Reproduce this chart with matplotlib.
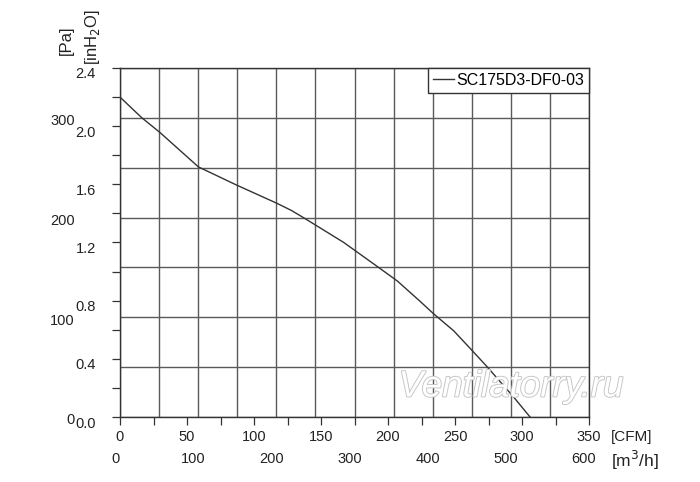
import matplotlib
matplotlib.use("Agg")
import matplotlib.pyplot as plt
import matplotlib.patheffects as pe
from matplotlib.ticker import MultipleLocator, FuncFormatter, FixedLocator
from matplotlib.transforms import ScaledTranslation

# ---- data ----
cfm = [0, 16, 30, 58.5, 87, 117, 128, 138, 167, 192, 207, 224, 234, 249, 262.5, 274, 293.5, 306]
inh2o = [2.20, 2.06, 1.955, 1.72, 1.595, 1.47, 1.42, 1.365, 1.20, 1.035, 0.935, 0.795, 0.71, 0.593, 0.46, 0.345, 0.14, 0.0]
series_name = "SC175D3-DF0-03"
cfm_ticks = [0, 50, 100, 150, 200, 250, 300, 350]
m3h_ticks = [0, 100, 200, 300, 400, 500, 600]
in_ticks = [0.0, 0.4, 0.8, 1.2, 1.6, 2.0, 2.4]
pa_ticks = [0, 100, 200, 300]
watermark = "Ventilatorry.ru"

plt.rcParams['font.family'] = ['Liberation Sans', 'DejaVu Sans']

fig = plt.figure(figsize=(7.0, 4.82), dpi=100)
ax = fig.add_axes([120/700, 1-417/482, 469/700, 349/482])

grid_c = '#5a5a5a'
# Pa axis (grid lines, left outer labels)
ax_pa = ax.twinx()
ax_pa.set_ylim(0, 350)
ax_pa.yaxis.set_major_locator(MultipleLocator(50))
ax_pa.yaxis.set_major_formatter(FuncFormatter(lambda v, p: f"{int(v)}" if int(round(v)) in pa_ticks else ""))
ax_pa.yaxis.set_ticks_position('left')
ax_pa.yaxis.set_label_position('left')
ax_pa.tick_params(axis='y', length=0, pad=32.5, labelsize=10.5, labelcolor='#222222')
ax_pa.grid(True, axis='y', color=grid_c, lw=1.0)
ax_pa.set_zorder(0)

# m3/h axis (vertical grid, second row labels)
ax_m = ax.twiny()
ax_m.set_xlim(0, 600)
ax_m.xaxis.set_major_locator(MultipleLocator(50))
ax_m.xaxis.set_major_formatter(FuncFormatter(lambda v, p: f"{int(v)}" if int(round(v)) in m3h_ticks else ""))
ax_m.xaxis.set_ticks_position('bottom')
ax_m.tick_params(axis='x', length=0, pad=25, labelsize=10.5, labelcolor='#222222')
ax_m.grid(True, axis='x', color=grid_c, lw=1.0)
for lab in ax_m.get_xticklabels():
    lab.set_transform(lab.get_transform() + ScaledTranslation(-5/100, 0, fig.dpi_scale_trans))
for a in (ax_pa, ax_m):
    for s in a.spines.values():
        s.set_visible(False)
    a.patch.set_visible(False)

# main axis
ax.set_zorder(2)
ax.patch.set_visible(False)
ax.set_xlim(0, 350)
ax.set_ylim(0, 2.4)
ax.xaxis.set_major_locator(FixedLocator(cfm_ticks))
ax.xaxis.set_minor_locator(MultipleLocator(25))
ax.yaxis.set_major_locator(FixedLocator(in_ticks))
ax.yaxis.set_minor_locator(MultipleLocator(0.2))
ax.yaxis.set_major_formatter(FuncFormatter(lambda v, p: f"{v:.1f}"))
ax.tick_params(axis='both', which='both', direction='out', length=6, width=0.9,
               color='#333333', labelsize=10.5, labelcolor='#222222')
ax.tick_params(axis='x', which='major', pad=3.5)
ax.tick_params(axis='y', which='major', pad=11.5)
for lab in ax.get_yticklabels():
    lab.set_transform(lab.get_transform() + ScaledTranslation(0, -5/100, fig.dpi_scale_trans))
for lab in ax_pa.get_yticklabels():
    lab.set_transform(lab.get_transform() + ScaledTranslation(0, -2/100, fig.dpi_scale_trans))
for s in ax.spines.values():
    s.set_color('#333333')
    s.set_linewidth(1.0)

line, = ax.plot(cfm, inh2o, color='#333333', lw=1.0, label=series_name, zorder=5)

leg = ax.legend(loc='upper right', borderaxespad=0, fancybox=False, framealpha=1,
                edgecolor='#333333', handlelength=1.3, handletextpad=0.15,
                borderpad=0.3, fontsize=11.5)
leg.get_frame().set_linewidth(1.0)
leg.set_zorder(6)

# watermark
fig.text(511/700, 1-387/482, watermark, family='Liberation Sans', style='italic',
         fontsize=26.5, color='white', ha='center', va='center', zorder=3,
         path_effects=[pe.withStroke(linewidth=1.3, foreground='#c4c4c4')])

# unit labels
fig.text(611/700, 1-437/482, "[CFM]", fontsize=11, ha='left', va='center', color='#222222')
fig.text(611/700, 1-460/482, "[m$^3$/h]", fontsize=12.5, ha='left', va='center', color='#222222')
fig.text(66/700, 1-55/482, "[Pa]", fontsize=12, rotation=90, ha='center', va='bottom', color='#222222')
fig.text(92/700, 1-65/482, "[inH$_2$O]", fontsize=12, rotation=90, ha='center', va='bottom', color='#222222')

fig.savefig("out.png", dpi=100)
